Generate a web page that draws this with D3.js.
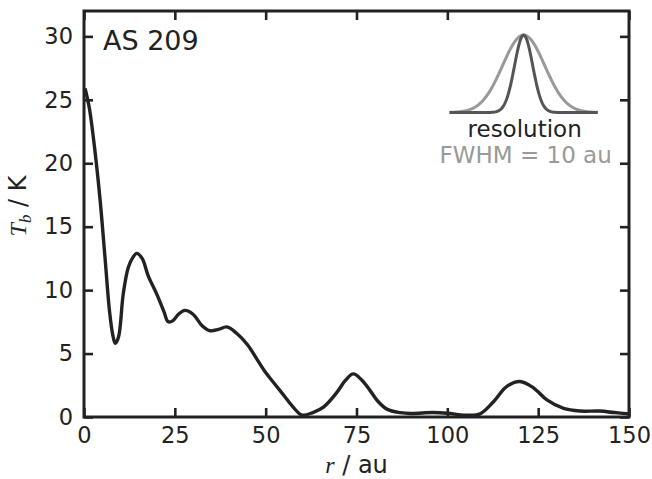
<!DOCTYPE html>
<html>
<head>
<meta charset="utf-8">
<script src="https://cdn.jsdelivr.net/npm/d3@7"></script>
<style>
  body { margin: 0; background: #fff; }
  text { font-family: "DejaVu Sans", sans-serif; fill: #222; }
</style>
</head>
<body>
<div id="chart"></div>
<script>
// radial profile of AS 209
const radius = [0.3, 1.5, 3, 4.4, 5.8, 7, 7.9, 8.6, 9.5, 10.8, 12.2, 13.5, 14.5, 16, 17.7, 20, 22, 23.2, 24.5, 26, 27.8, 30, 32.5, 34.7, 37, 39.3, 42, 45, 47.5, 50, 52.5, 55, 57.5, 60, 63, 66, 69.5, 72, 74.1, 76.5, 78.7, 81, 83.5, 87, 90, 96, 100, 105, 109, 112.7, 116.3, 120, 123.7, 127.4, 132, 136.5, 142, 146, 150]
const tb = [25.9, 24.3, 21, 17.2, 12.5, 8.4, 6.5, 5.8, 6.3, 9.7, 11.8, 12.6, 12.9, 12.5, 11.1, 9.7, 8.3, 7.5, 7.6, 8.1, 8.4, 8.1, 7.2, 6.8, 6.9, 7.1, 6.6, 5.7, 4.6, 3.5, 2.6, 1.7, 0.8, 0.15, 0.35, 0.8, 1.9, 2.9, 3.4, 2.9, 2.1, 1.2, 0.6, 0.35, 0.28, 0.35, 0.3, 0.15, 0.25, 1.2, 2.4, 2.8, 2.3, 1.35, 0.68, 0.47, 0.47, 0.35, 0.25]
const xTicks = [0, 25, 50, 75, 100, 125, 150]
const yTicks = [0, 5, 10, 15, 20, 25, 30]

// resolution inset (schematic beam), in data units
const beamCenter = 121
const beamHalfSpan = 20.4
const beamBase = 24
const beamHeight = 6.1
const beamSigmas = [5.8, 2.5]
const beamColors = ['#999', '#555']

const width = 652
const height = 479
const margin = { top: 11, right: 23, bottom: 62, left: 84 }
const innerW = width - margin.left - margin.right
const innerH = height - margin.top - margin.bottom

const svg = d3.select('#chart')
  .append('svg')
  .attr('width', width)
  .attr('height', height)

const g = svg.append('g')
  .attr('transform', `translate(${margin.left}, ${margin.top})`)

const x = d3.scaleLinear().domain([0, 150]).range([0, innerW])
const y = d3.scaleLinear().domain([0, 32]).range([innerH, 0])

// axes with inward ticks on all four sides
const tickLen = 9
const styleAxis = (sel) => {
  sel.select('.domain').remove()
  sel.selectAll('.tick line').attr('stroke', '#222').attr('stroke-width', 2.6)
  sel.selectAll('.tick text').style('font-size', '22.5px').attr('fill', '#222')
}
g.append('g')
  .attr('transform', `translate(0, ${innerH})`)
  .call(d3.axisBottom(x).tickValues(xTicks).tickSize(-tickLen).tickPadding(10))
  .call(styleAxis)
g.append('g')
  .call(d3.axisTop(x).tickValues(xTicks).tickSize(-tickLen).tickFormat(''))
  .call(styleAxis)
g.append('g')
  .call(d3.axisLeft(y).tickValues(yTicks).tickSize(-tickLen).tickPadding(11))
  .call(styleAxis)
g.append('g')
  .attr('transform', `translate(${innerW}, 0)`)
  .call(d3.axisRight(y).tickValues(yTicks).tickSize(-tickLen).tickFormat(''))
  .call(styleAxis)

// profile line
const line = d3.line()
  .x((d, i) => x(radius[i]))
  .y((d) => y(d))
  .curve(d3.curveCatmullRom)
g.append('path')
  .datum(tb)
  .attr('fill', 'none')
  .attr('stroke', '#222')
  .attr('stroke-width', 3.4)
  .attr('stroke-linejoin', 'round')
  .attr('d', line)

// inset beams
const beamX = d3.range(-beamHalfSpan, beamHalfSpan + 0.01, 0.2)
beamSigmas.forEach((s, k) => {
  const beamLine = d3.line()
    .x((d) => x(beamCenter + d))
    .y((d) => y(beamBase + beamHeight * Math.exp(-d * d / (2 * s * s))))
  g.append('path')
    .datum(beamX)
    .attr('fill', 'none')
    .attr('stroke', beamColors[k])
    .attr('stroke-width', 3)
    .attr('d', beamLine)
})
g.append('text')
  .attr('x', x(beamCenter) + 1)
  .attr('y', 126)
  .attr('text-anchor', 'middle')
  .style('font-size', '23px')
  .text('resolution')
g.append('text')
  .attr('x', x(beamCenter) + 2)
  .attr('y', 152)
  .attr('text-anchor', 'middle')
  .style('font-size', '23px')
  .style('fill', '#999')
  .text('FWHM = 10 au')

// source name
g.append('text')
  .attr('x', 19)
  .attr('y', 39)
  .style('font-size', '27px')
  .text('AS 209')

// frame
g.append('rect')
  .attr('width', innerW)
  .attr('height', innerH)
  .attr('fill', 'none')
  .attr('stroke', '#222')
  .attr('stroke-width', 3)

// axis labels
const xl = svg.append('text')
  .attr('x', margin.left + innerW / 2)
  .attr('y', 473)
  .attr('text-anchor', 'middle')
  .style('font-size', '24px')
xl.append('tspan').style('font-family', '"Liberation Serif", serif').style('font-style', 'italic').text('r')
xl.append('tspan').text(' / au')

const yl = svg.append('text')
  .attr('transform', 'translate(26, 206) rotate(-90)')
  .attr('text-anchor', 'middle')
  .style('font-size', '24px')
yl.append('tspan').style('font-family', '"Liberation Serif", serif').style('font-style', 'italic').text('T')
yl.append('tspan').style('font-family', '"Liberation Serif", serif').style('font-style', 'italic')
  .style('font-size', '17px').attr('dy', 5).text('b')
yl.append('tspan').attr('dy', -5).text(' / K')
</script>
</body>
</html>
